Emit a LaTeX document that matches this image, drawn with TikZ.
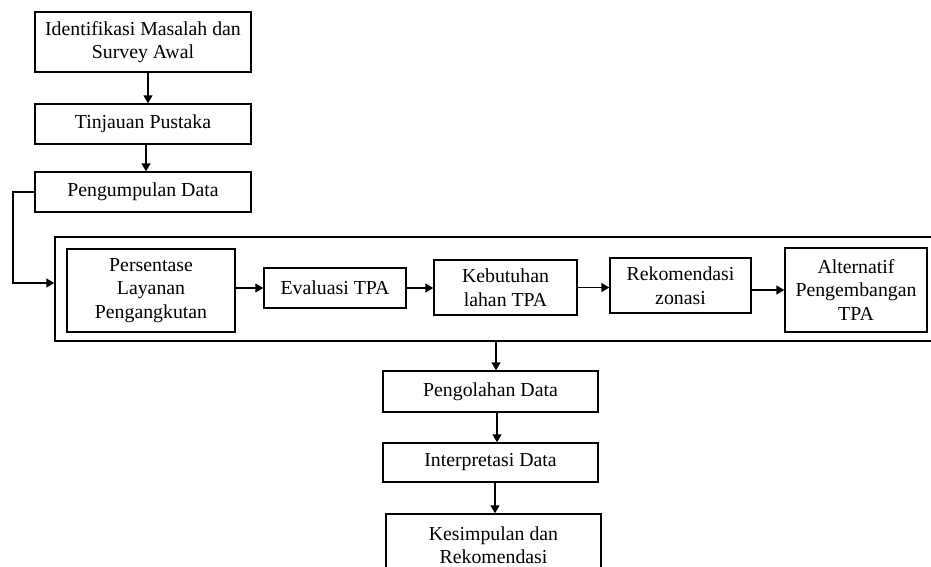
\documentclass[tikz,border=0pt]{standalone}
\usepackage{fontspec}
\setmainfont{Liberation Serif}
\usetikzlibrary{arrows.meta}
\begin{document}
\begin{tikzpicture}[x=1pt,y=-1pt,
  box/.style={draw, line width=1.4pt, align=center, inner sep=0pt,
    font=\fontsize{19.8}{23.5}\selectfont},
  arr/.style={line width=1.4pt, -{Triangle[length=8pt,width=9pt]}}]
\clip (0,0) rectangle (931,567);
\node[box, minimum width=216, minimum height=60] (b1) at (143,42) {Identifikasi Masalah dan\\Survey Awal};
\node[box, minimum width=216, minimum height=40] (b2) at (143,124) {Tinjauan Pustaka};
\node[box, minimum width=216, minimum height=40] (b3) at (143,192) {Pengumpulan Data};
\node[box, minimum width=895, minimum height=104] (frame) at (502.5,289) {};
\node[box, minimum width=168, minimum height=83] (p1) at (151,290.5) {Persentase\\Layanan\\Pengangkutan};
\node[box, minimum width=142, minimum height=40] (p2) at (335,288) {Evaluasi TPA};
\node[box, minimum width=143, minimum height=55] (p3) at (505.5,287.5) {Kebutuhan\\lahan TPA};
\node[box, minimum width=141, minimum height=55] (p4) at (680.5,285.5) {Rekomendasi\\zonasi};
\node[box, minimum width=142, minimum height=84] (p5) at (856,290) {Alternatif\\Pengembangan\\TPA};
\node[box, minimum width=215, minimum height=41] (q1) at (490.5,391.5) {Pengolahan Data};
\node[box, minimum width=215, minimum height=39] (q2) at (490.5,462.5) {Interpretasi Data};
\node[box, minimum width=215, minimum height=62] (q3) at (493.5,545) {Kesimpulan dan\\Rekomendasi};
\coordinate (lc) at (13,283);
\draw[arr] ([xshift=5pt]b1.south) -- ([xshift=5pt]b2.north);
\draw[arr] ([xshift=3pt]b2.south) -- ([xshift=3pt]b3.north);
\draw[arr] (b3.west) -| (lc) -- (lc -| frame.west);
\draw[arr] (p1.east |- p2.center) -- (p2.west);
\draw[arr] (p2.east) -- (p2.east -| p3.west);
\draw[arr] (p3.east) -- (p3.east -| p4.west);
\draw[arr] (p4.east |- p5.center) -- (p5.west);
\draw[arr] ([xshift=5.5pt]q1.north |- frame.south) -- ([xshift=5.5pt]q1.north);
\draw[arr] ([xshift=6.5pt]q1.south) -- ([xshift=6.5pt]q2.north);
\draw[arr] ([xshift=4.5pt]q2.south) -- ([xshift=1.5pt]q3.north);
\end{tikzpicture}
\end{document}
